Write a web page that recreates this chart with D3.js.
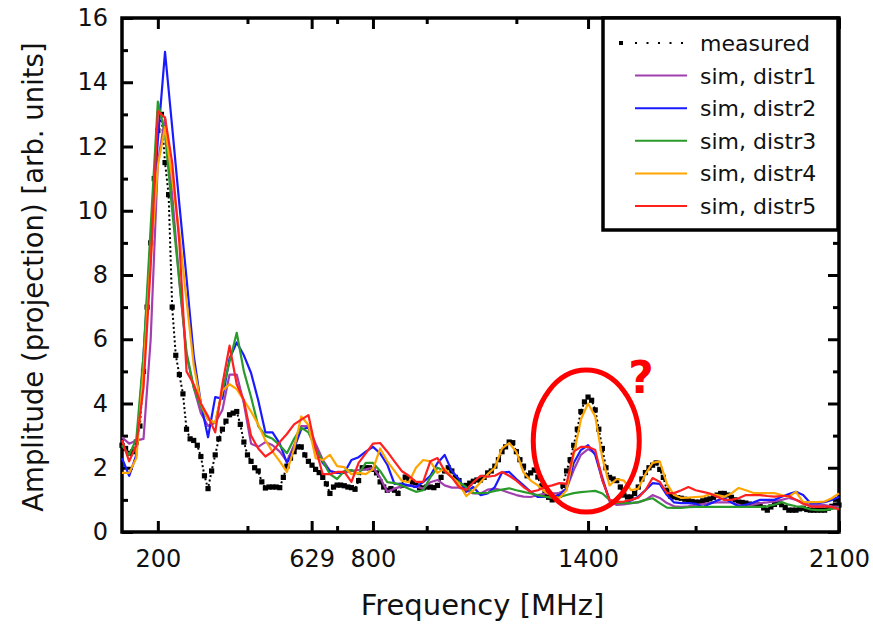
<!DOCTYPE html>
<html>
<head>
<meta charset="utf-8">
<script src="https://cdn.jsdelivr.net/npm/d3@7"></script>
<style>
  body { margin: 0; background: #fff; }
  svg { display: block; font-family: "DejaVu Sans", sans-serif; }
</style>
</head>
<body>
<div id="chart"></div>
<script>
// measured spectrum, 10 MHz steps starting at 100 MHz
const measuredStart = 100, measuredStep = 10;
const measured = [
  2.7, 2.6, 2.45, 2.5, 2.8, 3.3, 5.0, 7.0, 9.0, 11.0,
  12.5, 13.0, 11.5, 10.5, 7.0, 5.5, 4.9, 4.3, 3.2, 2.9,
  2.85, 2.7, 2.35, 1.75, 1.35, 1.9, 2.4, 2.9, 3.2, 3.45,
  3.65, 3.7, 3.75, 3.35, 2.8, 2.4, 2.2, 2.0, 1.9, 1.56,
  1.37, 1.4, 1.4, 1.4, 1.38, 1.7, 2.05, 2.3, 2.5, 2.65,
  2.65, 2.4, 2.2, 2.08, 1.95, 1.85, 1.7, 1.5, 1.2, 1.4,
  1.46, 1.46, 1.44, 1.4, 1.38, 1.33, 1.6, 2.0, 2.0, 2.0,
  1.95, 1.84, 1.56, 1.4, 1.3, 1.35, 1.3, 1.2, 1.45, 1.71,
  1.65, 1.55, 1.45, 1.38, 1.37, 1.4, 1.4, 1.38, 1.45, 1.7,
  1.9, 2.0, 1.9, 1.7, 1.6, 1.42, 1.45, 1.52, 1.58, 1.62,
  1.62, 1.7, 1.84, 1.9, 2.05, 2.25, 2.5, 2.65, 2.8, 2.78,
  2.5, 2.25, 2.05, 1.75, 1.84, 1.93, 1.71, 1.4, 1.2, 1.08,
  1.0, 1.05, 1.15, 1.45, 1.9, 2.25, 2.7, 3.2, 3.75, 4.05,
  4.2, 4.1, 3.8, 3.2, 2.6, 2.0, 1.7, 1.65, 1.6, 1.4,
  1.15, 1.09, 1.09, 1.2, 1.4, 1.65, 1.85, 2.0, 2.08, 2.15,
  1.95, 1.7, 1.3, 1.12, 1.09, 1.07, 1.05, 1.02, 1.0, 0.95,
  0.93, 0.93, 0.97, 1.0, 1.03, 1.08, 1.15, 1.2, 1.2, 1.15,
  1.08, 1.0, 0.93, 0.92, 0.9, 0.87, 0.84, 0.84, 0.84, 0.75,
  0.68, 0.78, 0.86, 0.92, 0.85, 0.76, 0.68, 0.68, 0.68, 0.72,
  0.74, 0.7, 0.68, 0.68, 0.68, 0.68, 0.68, 0.74, 0.8, 0.84,
  0.84
];

// simulations, 20 MHz steps starting at 100 MHz
const simStart = 100, simStep = 20;
const distr1 = [
  2.95, 2.75, 2.85, 2.9, 6.0, 11.5, 12.9, 10.5, 7.8, 5.5,
  4.5, 3.7, 3.3, 3.4, 3.8, 4.9, 4.9, 4.0, 2.75, 2.65,
  2.8, 2.7, 2.5, 2.2, 2.7, 3.3, 3.3, 2.75, 2.25, 1.9,
  1.84, 1.84, 1.9, 1.93, 1.95, 2.0, 1.7, 1.25, 1.35, 1.42,
  1.45, 1.42, 1.35, 1.55, 1.62, 1.45, 1.38, 1.38, 1.3, 1.2,
  1.2, 1.32, 1.35, 1.3, 1.22, 1.15, 1.1, 1.09, 1.15, 1.2,
  1.2, 1.2, 1.35, 1.93, 2.4, 2.58, 2.45, 1.7, 0.95, 0.84,
  0.86, 0.9, 0.92, 1.0, 1.15, 1.06, 0.9, 0.8, 0.78, 0.8,
  0.84, 0.87, 0.9, 0.92, 0.92, 0.92, 0.85, 0.78, 0.85, 0.9,
  0.92, 0.95, 1.0, 1.06, 1.0, 0.92, 0.84, 0.84, 0.84, 0.8,
  0.78
];
const distr2 = [
  2.3, 1.75, 2.4, 5.5, 9.0, 12.2, 14.95, 12.6, 10.2, 7.9,
  5.5, 4.0, 2.95, 4.2, 4.15, 5.4, 5.9, 5.5, 4.95, 4.1,
  3.1, 3.1, 2.75, 2.15, 2.6, 3.2, 3.25, 2.6, 2.15, 1.9,
  1.84, 1.84, 2.24, 2.33, 2.5, 2.65, 2.45, 2.1, 1.5, 1.5,
  1.45, 1.4, 1.55, 1.75, 2.15, 2.4, 1.9, 1.65, 1.25, 1.4,
  1.15, 1.2, 1.4, 1.85, 1.87, 1.65, 1.45, 1.25, 1.09, 1.09,
  1.09, 1.15, 1.35, 2.15, 2.55, 2.7, 2.4, 1.62, 1.0, 0.9,
  0.92, 0.98, 1.1, 1.3, 1.52, 1.5, 1.15, 0.92, 0.9, 0.9,
  0.88, 0.78, 0.88, 0.98, 1.05, 0.92, 0.8, 0.85, 0.92, 1.0,
  1.0, 1.0, 1.1, 1.18, 1.25, 1.15, 0.9, 0.9, 0.93, 1.0,
  1.1
];
const distr3 = [
  2.7, 2.4, 2.9, 5.5, 9.5, 13.4, 12.4, 10.0, 7.8, 5.6,
  4.5, 3.9, 3.5, 3.4, 4.4, 5.3, 6.2, 5.0, 4.2, 3.3,
  3.0, 2.9, 2.7, 2.45, 2.9, 3.25, 3.1, 2.6, 2.2, 1.8,
  1.65, 1.9, 1.93, 1.8, 2.15, 2.15, 1.9, 1.55, 1.52, 1.45,
  1.35, 1.25, 1.3, 1.7, 2.0, 1.9, 1.7, 1.55, 1.4, 1.22,
  1.21, 1.22, 1.28, 1.32, 1.36, 1.3, 1.25, 1.2, 1.15, 1.1,
  1.06, 1.08, 1.15, 1.21, 1.24, 1.26, 1.28, 1.2, 1.0, 0.9,
  0.9, 0.9, 0.93, 1.0, 1.05, 0.9, 0.76, 0.75, 0.75, 0.77,
  0.78, 0.78, 0.78, 0.78, 0.78, 0.78, 0.78, 0.78, 0.78, 0.78,
  0.8, 0.85, 0.93, 0.85, 0.8, 0.78, 0.7, 0.68, 0.68, 0.72,
  0.75
];
const distr4 = [
  1.84, 1.84, 2.3, 5.0, 8.5, 11.4, 12.6, 11.0, 9.3, 7.2,
  5.2, 4.0, 3.5, 3.4, 4.4, 4.6, 4.45, 4.1, 3.75, 3.35,
  2.85, 2.5, 2.2, 1.87, 2.6, 3.6, 3.33, 2.3, 2.24, 2.4,
  2.05, 2.02, 1.8, 1.84, 1.8, 1.95, 2.6, 2.2, 1.9, 1.6,
  1.55, 2.0, 2.24, 2.2, 1.84, 1.98, 1.72, 1.5, 1.12, 1.3,
  1.55, 1.8, 2.0, 2.6, 2.77, 2.5, 1.85, 1.6, 1.45, 1.25,
  1.12, 1.06, 1.3, 2.4, 3.5, 4.0, 3.6, 2.3, 1.45, 1.65,
  1.6, 1.3, 1.35, 1.8, 2.15, 2.2, 1.5, 1.15, 1.06, 1.07,
  1.09, 1.1, 1.18, 1.15, 1.1, 1.2, 1.37, 1.3, 1.22, 1.21,
  1.21, 1.21, 1.15, 1.1, 1.25, 0.93, 0.93, 0.93, 0.95, 1.05,
  1.2
];
const distr5 = [
  2.86, 2.2, 2.7, 4.5, 8.3, 13.1, 12.9, 11.5, 9.0, 5.0,
  4.6, 4.0, 3.6, 3.1, 4.6, 5.8, 4.6, 4.1, 3.0, 2.6,
  2.35, 2.5, 2.8, 3.05, 3.35, 3.5, 3.64, 2.6, 1.8, 1.8,
  1.87, 1.87, 1.56, 2.15, 2.45, 2.75, 2.77, 2.5, 2.2, 1.9,
  1.75, 1.56, 1.56, 2.2, 2.3, 1.9, 1.7, 1.4, 1.3, 1.55,
  1.75, 1.72, 1.75, 1.87, 1.75, 1.6, 1.4, 1.25, 1.3, 1.4,
  1.45, 1.52, 1.5, 2.5, 2.65, 2.65, 2.55, 1.6, 1.0, 0.93,
  0.95, 1.0, 1.07, 1.3, 1.68, 1.56, 1.21, 1.21, 1.3, 1.4,
  1.3, 1.25, 1.2, 1.1, 1.0, 1.0, 1.05, 1.15, 1.15, 1.15,
  1.12, 1.1, 1.12, 1.12, 1.0, 0.88, 0.8, 0.78, 0.8, 0.78,
  0.7
];

const simNames = ["sim, distr1", "sim, distr2", "sim, distr3", "sim, distr4", "sim, distr5"];
const simColors = ["#a23fb0", "#1a1aff", "#2a9a2a", "#ffa500", "#ff2020"];

const xMajorTicks = [200, 629, 800, 1400, 2100];
const xMinorTicks = [450, 700, 950, 1200, 1450, 1700, 1950];
const yMajorTicks = [0, 2, 4, 6, 8, 10, 12, 14, 16];
const yMinorTicks = [1, 3, 5, 7, 9, 11, 13, 15];

// the circled peak
const markFreq = 1395, markAmp = 2.83;

class spectrumChart {
  constructor(dom) {
    this.element = dom;
    this.margin = { top: 18, right: 34, bottom: 92, left: 122 };
    this.w = 873;
    this.h = 624;
    this.width = this.w - this.margin.left - this.margin.right;
    this.height = this.h - this.margin.top - this.margin.bottom;
    this.draw();
  }

  draw() {
    const svg = d3.select(this.element).append('svg')
      .attr('width', this.w)
      .attr('height', this.h);
    this.svg = svg;

    this.x = d3.scaleLinear().domain([100, 2100]).range([0, this.width]);
    this.y = d3.scaleLinear().domain([0, 16]).range([this.height, 0]);

    this.plot = svg.append('g')
      .attr('transform', `translate(${this.margin.left},${this.margin.top})`);

    this.drawAxes();
    this.drawLines();
    this.drawLegend();
    this.drawMark();
  }

  drawAxes() {
    const x = this.x, y = this.y, p = this.plot;
    const font = '"DejaVu Sans", sans-serif';

    const tickAxis = (gen, tr, vals, size, pad, fmt) => {
      const g = p.append('g').attr('transform', tr)
        .call(gen.tickValues(vals).tickSize(size).tickPadding(pad).tickFormat(fmt));
      g.select('.domain').remove();
      g.selectAll('.tick line').attr('stroke', '#000').attr('stroke-width', 3);
      g.selectAll('text').attr('font-size', 24).attr('font-family', font).attr('fill', '#111');
      return g;
    };
    const none = () => '';

    tickAxis(d3.axisBottom(x), `translate(0,${this.height})`, xMajorTicks, -11, 18, d3.format('d'));
    tickAxis(d3.axisBottom(x), `translate(0,${this.height})`, xMinorTicks, -6, 0, none);
    tickAxis(d3.axisTop(x), 'translate(0,0)', xMajorTicks, -11, 0, none);
    tickAxis(d3.axisTop(x), 'translate(0,0)', xMinorTicks, -6, 0, none);

    tickAxis(d3.axisLeft(y), 'translate(0,0)', yMajorTicks, -11, 14, d3.format('d'));
    tickAxis(d3.axisLeft(y), 'translate(0,0)', yMinorTicks, -6, 0, none);
    tickAxis(d3.axisRight(y), `translate(${this.width},0)`, yMajorTicks, -11, 0, none);
    tickAxis(d3.axisRight(y), `translate(${this.width},0)`, yMinorTicks, -6, 0, none);

    p.append('rect')
      .attr('width', this.width)
      .attr('height', this.height)
      .attr('fill', 'none')
      .attr('stroke', '#000')
      .attr('stroke-width', 3.5);

    // axis titles
    p.append('text')
      .attr('x', this.width / 2 + 2)
      .attr('y', this.height + 83)
      .attr('text-anchor', 'middle')
      .attr('font-size', 29)
      .attr('fill', '#111')
      .text('Frequency [MHz]');

    p.append('text')
      .attr('transform', `translate(${-79},${this.height / 2 + 2}) rotate(-90)`)
      .attr('text-anchor', 'middle')
      .attr('font-size', 27.5)
      .attr('fill', '#111')
      .text('Amplitude (projection) [arb. units]');
  }

  drawLines() {
    const x = this.x, y = this.y;
    const meas = measured.map((v, i) => [measuredStart + i * measuredStep, v]);
    const line = d3.line().x(d => x(d[0])).y(d => y(d[1]));

    this.plot.append('path')
      .datum(meas)
      .attr('d', line)
      .attr('fill', 'none')
      .attr('stroke', '#000')
      .attr('stroke-width', 2)
      .attr('stroke-dasharray', '2,2.5');

    this.plot.selectAll('.mpt')
      .data(meas)
      .enter().append('rect')
      .attr('class', 'mpt')
      .attr('x', d => x(d[0]) - 2.6)
      .attr('y', d => y(d[1]) - 2.6)
      .attr('width', 5.2)
      .attr('height', 5.2)
      .attr('fill', '#000');

    const sims = [distr1, distr2, distr3, distr4, distr5];
    sims.forEach((s, k) => {
      const pts = s.map((v, i) => [simStart + i * simStep, v]);
      this.plot.append('path')
        .datum(pts)
        .attr('d', line)
        .attr('fill', 'none')
        .attr('stroke', simColors[k])
        .attr('stroke-width', 2.2)
        .attr('stroke-linejoin', 'round');
    });
  }

  drawLegend() {
    const lg = this.svg.append('g').attr('transform', 'translate(603,18)');
    lg.append('rect')
      .attr('width', 235)
      .attr('height', 212)
      .attr('fill', '#fff')
      .attr('stroke', '#000')
      .attr('stroke-width', 3.5);

    const rowY = i => 25 + i * 32.6;
    const rows = ['measured'].concat(simNames);

    // measured sample: point plus dotted line
    lg.append('rect').attr('x', 16).attr('y', rowY(0) - 2).attr('width', 4).attr('height', 4).attr('fill', '#000');
    lg.append('line')
      .attr('x1', 32).attr('x2', 86)
      .attr('y1', rowY(0)).attr('y2', rowY(0))
      .attr('stroke', '#000').attr('stroke-width', 2)
      .attr('stroke-dasharray', '2,9.5');

    simColors.forEach((c, i) => {
      lg.append('line')
        .attr('x1', 32).attr('x2', 84)
        .attr('y1', rowY(i + 1)).attr('y2', rowY(i + 1))
        .attr('stroke', c).attr('stroke-width', 2);
    });

    lg.selectAll('.ltext')
      .data(rows)
      .enter().append('text')
      .attr('class', 'ltext')
      .attr('x', 97)
      .attr('y', (d, i) => rowY(i) + 8)
      .attr('font-size', 22)
      .attr('fill', '#111')
      .text(d => d);
  }

  drawMark() {
    const cx = this.margin.left + this.x(markFreq);
    const cy = this.margin.top + this.y(markAmp);
    this.svg.append('ellipse')
      .attr('cx', cx).attr('cy', cy)
      .attr('rx', 53).attr('ry', 71)
      .attr('fill', 'none')
      .attr('stroke', '#ff0000')
      .attr('stroke-width', 5);
    this.svg.append('text')
      .attr('x', cx + 42)
      .attr('y', cy - 48)
      .attr('font-size', 44)
      .attr('font-weight', 'bold')
      .attr('fill', '#ff0000')
      .text('?');
  }
}

new spectrumChart(document.getElementById('chart'));
</script>
</body>
</html>
